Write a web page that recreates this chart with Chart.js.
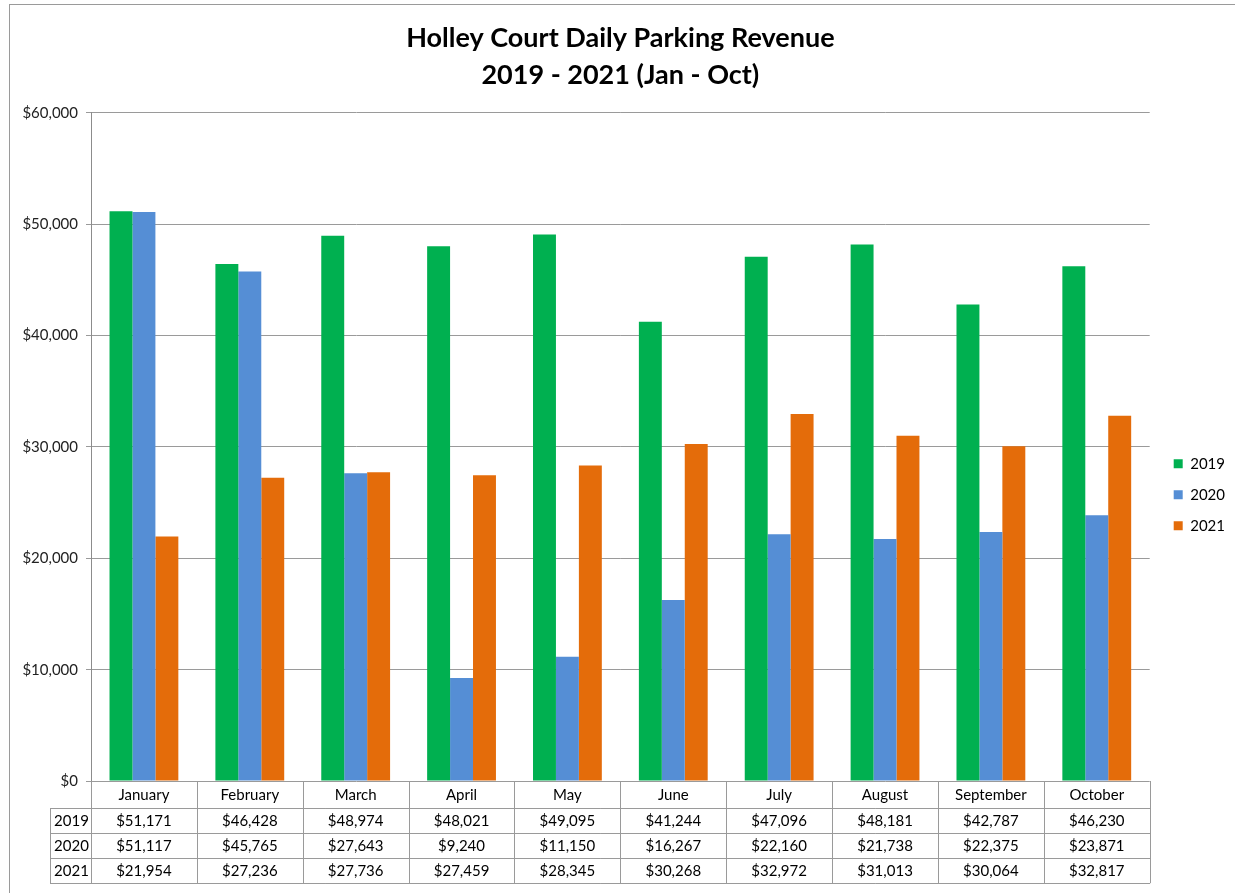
<!DOCTYPE html>
<html>
<head>
<meta charset="utf-8">
<title>Holley Court Daily Parking Revenue</title>
<script src="https://cdn.jsdelivr.net/npm/chart.js@4.4.1/dist/chart.umd.min.js"></script>
<style>
  html, body { margin: 0; padding: 0; background: #fff; }
  #wrap { position: relative; width: 1235px; height: 893px; overflow: hidden; }
  #frame {
    position: absolute; left: 9px; top: 4px; width: 1400px; height: 1000px;
    border-left: 1px solid #9a9a9a; border-top: 1px solid #9a9a9a;
  }
  canvas { position: absolute; left: 0; top: 0; }
</style>
</head>
<body>
<div id="wrap">
  <div id="frame"></div>
  <canvas id="revenueChart" width="1235" height="893"></canvas>
</div>
<script>
// ── Data ─────────────────────────────────────────────────── //
const MONTHS = ['January', 'February', 'March', 'April', 'May', 'June',
                'July', 'August', 'September', 'October'];

const YEARS = ['2019', '2020', '2021'];

const REV_2019 = [51171, 46428, 48974, 48021, 49095, 41244, 47096, 48181, 42787, 46230];
const REV_2020 = [51117, 45765, 27643, 9240, 11150, 16267, 22160, 21738, 22375, 23871];
const REV_2021 = [21954, 27236, 27736, 27459, 28345, 30268, 32972, 31013, 30064, 32817];

const Y_MAX  = 60000;
const Y_STEP = 10000;

const SERIES = [REV_2019, REV_2020, REV_2021];
const COLORS = ['#00b050', '#558ed5', '#e46c0a'];

const FONT = 'Lato';
const money = v => '$' + v.toLocaleString('en-US');

/**
 * Draws the data table under the plot: month header row plus
 * one row per year, lined up with the category scale.
 */
const dataTablePlugin = {
  id: 'dataTable',
  afterDraw(chart) {
    const { ctx, chartArea: { left, right, bottom }, scales: { x } } = chart;
    const headH = 27;
    const rowH  = 25;
    const labelLeft = 50;
    const n = MONTHS.length;
    const colW = (right - left) / n;
    const tableBottom = bottom + headH + YEARS.length * rowH;

    ctx.save();
    ctx.strokeStyle = '#9a9a9a';
    ctx.lineWidth = 1;
    ctx.beginPath();

    // column separators, from the $0 line down
    for (let i = 0; i <= n; i++) {
      const cx = Math.round(left + i * colW) + 0.5;
      ctx.moveTo(cx, bottom);
      ctx.lineTo(cx, tableBottom);
    }
    // left edge of the row label column
    ctx.moveTo(labelLeft + 0.5, bottom + headH);
    ctx.lineTo(labelLeft + 0.5, tableBottom);
    // row lines
    for (let r = 0; r <= YEARS.length; r++) {
      const ry = Math.round(bottom + headH + r * rowH) + 0.5;
      ctx.moveTo(labelLeft, ry);
      ctx.lineTo(right + 0.5, ry);
    }
    ctx.stroke();

    ctx.fillStyle = '#000';
    ctx.font = `15px ${FONT}`;
    ctx.textAlign = 'center';
    ctx.textBaseline = 'middle';

    MONTHS.forEach((m, i) => {
      ctx.fillText(m, x.getPixelForValue(i), bottom + headH / 2 + 1);
    });

    YEARS.forEach((yr, r) => {
      const cy = bottom + headH + r * rowH + rowH / 2 + 1;
      ctx.fillText(yr, (labelLeft + left) / 2 + 1, cy);
      SERIES[r].forEach((v, i) => {
        ctx.fillText(money(v), x.getPixelForValue(i), cy);
      });
    });
    ctx.restore();
  },
};

const ctx = document.getElementById('revenueChart').getContext('2d');

new Chart(ctx, {
  type: 'bar',
  plugins: [dataTablePlugin],
  data: {
    labels: MONTHS,
    datasets: YEARS.map((yr, i) => ({
      label:           yr,
      data:            SERIES[i],
      backgroundColor: COLORS[i],
      borderWidth:     0,
      barPercentage:   1,
      categoryPercentage: 0.65,
    })),
  },
  options: {
    responsive: false,
    animation: false,
    layout: { padding: { left: 0, right: 0, top: 0, bottom: 112 } },
    plugins: {
      title: {
        display: true,
        fullSize: false,
        text: ['Holley Court Daily Parking Revenue', '2019 - 2021 (Jan - Oct)'],
        color: '#000',
        font: { family: FONT, size: 27, weight: 'bold', lineHeight: 1.37 },
        padding: { top: 20, bottom: 19 },
      },
      legend: {
        position: 'right',
        // empty title only pushes the key down to sit beside the lower half
        title: { display: true, text: '', padding: { top: 194, bottom: 0 } },
        labels: {
          boxWidth: 9,
          boxHeight: 9,
          padding: 16,
          color: '#000',
          font: { family: FONT, size: 15 },
        },
      },
      tooltip: { enabled: false },
    },
    scales: {
      x: { display: false },
      y: {
        min: 0,
        max: Y_MAX,
        afterFit(scale) { scale.width = 91; },
        border: { display: true, color: '#8c8c8c' },
        grid: { color: '#9a9a9a', tickLength: 5 },
        ticks: {
          stepSize: Y_STEP,
          padding: 8,
          color: '#222',
          font: { family: FONT, size: 15 },
          callback: v => money(v),
        },
      },
      // blank spacer between plot and key
      gap: {
        position: 'right',
        afterFit(scale) { scale.width = 8; },
        grid: { display: false },
        border: { display: false },
        ticks: { display: false },
      },
    },
  },
});
</script>
</body>
</html>
